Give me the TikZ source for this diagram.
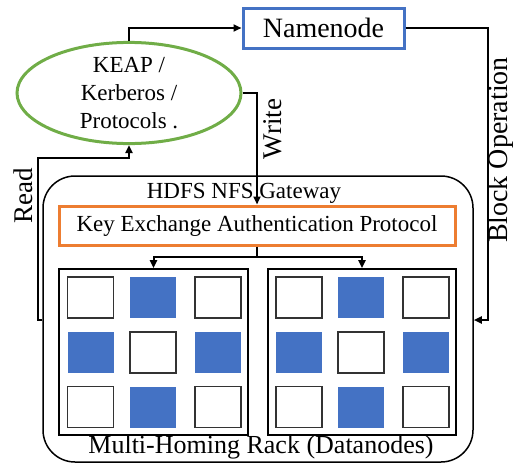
\documentclass[tikz,border=0pt]{standalone}
\usepackage{fontspec}
\setmainfont{Liberation Serif}
\usetikzlibrary{shapes.geometric,arrows.meta}
\definecolor{kgreen}{HTML}{70AD47}
\definecolor{korange}{HTML}{ED7D31}
\definecolor{kblue}{HTML}{4472C4}
\definecolor{kgray}{HTML}{333333}
\begin{document}
\begin{tikzpicture}[x=1pt,y=-1pt,
  arr/.style={-{Triangle[length=8pt,width=7pt]}, line width=2pt},
  ln/.style={line width=2pt},
  sq/.style={minimum width=46pt, minimum height=41pt, inner sep=0pt},
  wsq/.style={sq, draw=kgray, fill=white, line width=1.5pt},
  bsq/.style={sq, fill=kblue},
  rack/.style={draw, line width=1.6pt, minimum height=166pt, inner sep=0pt},
  lbl/.style={font=\fontsize{27}{30}\selectfont, rotate=90, inner sep=0pt}]
\useasboundingbox (0,0) rectangle (513,463);

\node[draw=kblue, line width=3pt, minimum width=161pt, minimum height=40pt, inner sep=0pt,
  font=\fontsize{28}{30}\selectfont] (nn) at (323.5,28) {Namenode};

\node[ellipse, draw=kgreen, line width=3pt, minimum width=224pt, minimum height=93pt, inner sep=0pt,
  align=center, font=\fontsize{23}{28}\selectfont] (keap) at (129,93) {KEAP /\\Kerberos /\\Protocols .};

\node[draw, rounded corners=32pt, line width=1.5pt, minimum width=430pt, minimum height=286pt, inner sep=0pt]
  (gw) at (258,319) {};
\node[font=\fontsize{23}{26}\selectfont, inner sep=0pt] (gwt) at (244,193) {HDFS NFS Gateway};

\node[draw=korange, line width=3pt, minimum width=396pt, minimum height=39pt, inner sep=0pt,
  font=\fontsize{23}{26}\selectfont] (kb) at (257,225.5) {Key Exchange Authentication Protocol};

\node[rack, minimum width=189pt] (rl) at (153.5,352) {};
\node[rack, minimum width=188pt] (rr) at (362,352) {};

% left rack squares
\node[wsq] (l11) at (90.5,297.5) {};
\node[bsq] (l12) at (153,297.5) {};
\node[wsq] (l13) at (218,297.5) {};
\node[bsq] (l21) at (90.5,352.5) {};
\node[wsq] (l22) at (153,352.5) {};
\node[bsq] (l23) at (218,352.5) {};
\node[wsq] (l31) at (90.5,407) {};
\node[bsq] (l32) at (153,407) {};
\node[wsq] (l33) at (218,407) {};
% right rack squares
\node[wsq] (r11) at (299,297.5) {};
\node[bsq] (r12) at (361,297.5) {};
\node[wsq] (r13) at (426,297.5) {};
\node[bsq] (r21) at (299,352.5) {};
\node[wsq] (r22) at (361,352.5) {};
\node[bsq] (r23) at (426,352.5) {};
\node[wsq] (r31) at (299,407) {};
\node[bsq] (r32) at (361,407) {};
\node[wsq] (r33) at (426,407) {};

\node[font=\fontsize{26}{28}\selectfont, inner sep=0pt] (mh) at (261,447) {Multi-Homing Rack (Datanodes)};

% connectors
\draw[arr] (keap.north) |- (nn.west);

\coordinate (bo) at (488,320);
\draw[arr] (nn.east) -| (bo) -- (gw.east |- bo);
\node[lbl, font=\fontsize{28}{30}\selectfont] (bol) at (501,150) {Block Operation};

\draw[arr] (keap.east) -| (kb.north);
\node[lbl] (wl) at (273,129) {Write};

\coordinate (rd) at (38,320);
\coordinate (rdt) at (38,158);
\draw[arr] (gw.west |- rd) -- (rd) -- (rdt) -| (keap.south);
\node[lbl] (rl2) at (23,196) {Read};

\coordinate (sp) at (257,257);
\draw[ln] (kb.south) -- (sp);
\draw[arr] (sp) -| (rl.north);
\draw[arr] (sp) -| (rr.north);
\end{tikzpicture}
\end{document}
